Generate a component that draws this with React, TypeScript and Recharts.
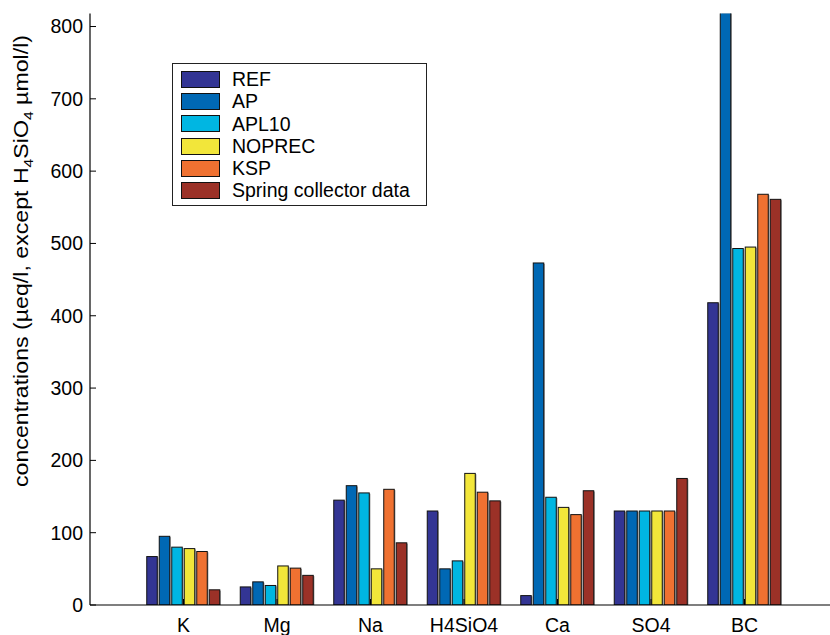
import React from 'react';
import { BarChart, Bar, XAxis, YAxis, Legend, Label } from 'recharts';

const categories = ['K', 'Mg', 'Na', 'H4SiO4', 'Ca', 'SO4', 'BC'];
const refValues = [67, 25, 145, 130, 13, 130, 418];
const apValues = [95, 32, 165, 50, 473, 130, 1000];
const apl10Values = [80, 27, 155, 61, 149, 130, 493];
const noprecValues = [78, 54, 50, 182, 135, 130, 495];
const kspValues = [74, 51, 160, 156, 125, 130, 568];
const springValues = [21, 41, 86, 144, 158, 175, 561];
const yTicks = [0, 100, 200, 300, 400, 500, 600, 700, 800];

const seriesNames = ['REF', 'AP', 'APL10', 'NOPREC', 'KSP', 'Spring collector data'];
const seriesKeys = ['ref', 'ap', 'apl10', 'noprec', 'ksp', 'spring'];
const seriesColors = ['#333594', '#0068b4', '#00b6e2', '#f2e63a', '#ef7131', '#9b3127'];

const data = categories.map((c, i) => ({
  name: c,
  ref: refValues[i],
  ap: apValues[i],
  apl10: apl10Values[i],
  noprec: noprecValues[i],
  ksp: kspValues[i],
  spring: springValues[i],
}));

const FONT = '"Liberation Sans", Arial, Helvetica, sans-serif';

const BarShape = (props: any) => {
  const { x, y, width, height, fill } = props;
  if (!height || height <= 0) return null;
  return (
    <g>
      <rect x={x + 1.2} y={y + 0.8} width={width} height={height} fill="#a0a0a0" />
      <rect x={x} y={y} width={width} height={height} fill={fill} stroke="#111" strokeWidth={1} />
    </g>
  );
};

const LegendBox = () => {
  return (
    <div
      style={{
        border: '1.3px solid #222',
        background: '#fff',
        padding: '4px 16px 3px 8px',
        fontFamily: FONT,
        fontSize: 19.5,
        lineHeight: '22.3px',
        color: '#000',
        width: 229,
      }}
    >
      {seriesNames.map((n, i) => (
        <div key={n} style={{ display: 'flex', alignItems: 'center', height: 22.3 }}>
          <div
            style={{
              width: 37,
              height: 15,
              background: seriesColors[i],
              border: '1px solid #111',
              marginRight: 12,
              flex: 'none',
            }}
          />
          <span style={{ whiteSpace: 'nowrap' }}>{n}</span>
        </div>
      ))}
    </div>
  );
};

const YLabel = () => (
  <text
    transform="translate(28,261) rotate(-90)"
    textAnchor="middle"
    fontFamily={FONT}
    fontSize={20}
    fill="#000"
    textLength={452}
    lengthAdjust="spacingAndGlyphs"
  >
    concentrations (µeq/l, except H
    <tspan dy={4.5} fontSize={13.5}>4</tspan>
    <tspan dy={-4.5}>SiO</tspan>
    <tspan dy={4.5} fontSize={13.5}>4</tspan>
    <tspan dy={-4.5}> µmol/l)</tspan>
  </text>
);

export default function App() {
  return (
    <div style={{ position: 'absolute', left: 0, top: 0, width: 830, height: 635, overflow: 'hidden', background: '#fff' }}>
      <BarChart
        width={840}
        height={635}
        data={data}
        margin={{ top: 13.5, right: 2, bottom: 0, left: 0 }}
        barSize={10.5}
        barGap={2}
      >
        <XAxis
          dataKey="name"
          xAxisId="bottom"
          orientation="bottom"
          height={30}
          padding={{ left: 46.75, right: 46.75 }}
          tickSize={-6}
          tickMargin={19}
          axisLine={{ stroke: '#000', strokeWidth: 1.2 }}
          tickLine={{ stroke: '#000' }}
          tick={{ fill: '#000', fontSize: 19.5, fontFamily: FONT }}
          interval={0}
        />
        <XAxis
          dataKey="name"
          xAxisId="top"
          orientation="top"
          height={0}
          padding={{ left: 46.75, right: 46.75 }}
          tickSize={-6}
          tickFormatter={() => ''}
          axisLine={{ stroke: '#000', strokeWidth: 1.2 }}
          tickLine={{ stroke: '#000' }}
          interval={0}
        />
        <YAxis
          yAxisId="left"
          width={90}
          domain={[0, 818]}
          allowDataOverflow
          ticks={yTicks}
          interval={0}
          tickSize={-6}
          tickMargin={13}
          axisLine={{ stroke: '#000', strokeWidth: 1.2 }}
          tickLine={{ stroke: '#000' }}
          tick={{ fill: '#000', fontSize: 19.5, fontFamily: FONT }}
        >
          <Label content={<YLabel />} />
        </YAxis>
        <Legend
          layout="vertical"
          align="center"
          verticalAlign="middle"
          wrapperStyle={{ left: 172, top: 63, width: 'auto' }}
          content={<LegendBox />}
        />
        {seriesKeys.map((k, i) => (
          <Bar
            key={k}
            dataKey={k}
            name={seriesNames[i]}
            fill={seriesColors[i]}
            xAxisId="bottom"
            yAxisId="left"
            isAnimationActive={false}
            shape={<BarShape />}
          />
        ))}
      </BarChart>
    </div>
  );
}
